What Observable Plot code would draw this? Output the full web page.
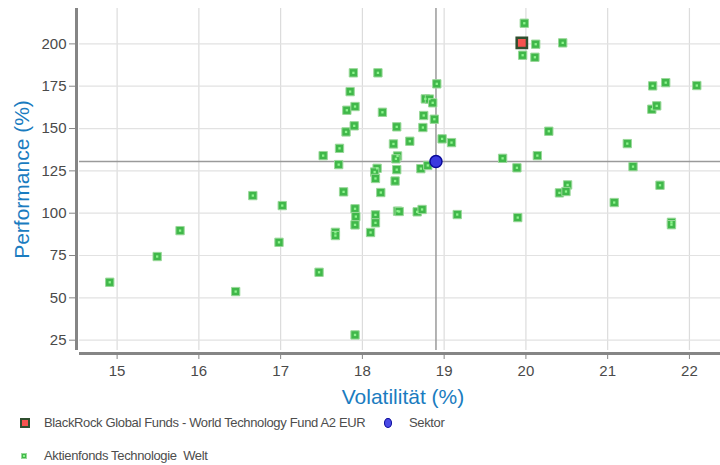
<!DOCTYPE html>
<html>
<head>
<meta charset="utf-8">
<script src="https://cdn.jsdelivr.net/npm/d3@7"></script>
<script src="https://cdn.jsdelivr.net/npm/@observablehq/plot@0.6"></script>
<style>
  body { margin: 0; background: #fff; font-family: "Liberation Sans", Arial, sans-serif; }
  #wrap { position: relative; width: 720px; height: 465px; overflow: hidden; }
  #chart { position: absolute; left: 0; top: 0; }
  .lg { position: absolute; font-size: 13px; letter-spacing: -0.35px; color: #4d4d4d; line-height: 16px; white-space: pre; }
  .sw { position: absolute; box-sizing: border-box; }
</style>
</head>
<body>
<div id="wrap">
  <div id="chart"></div>
  <div class="sw" style="left:20px;top:418px;width:10px;height:10px;background:#f5534f;border:2px solid #2f4f2f;"></div>
  <div class="lg" style="left:44px;top:415px;">BlackRock Global Funds - World Technology Fund A2 EUR</div>
  <div class="sw" style="left:384px;top:418px;width:8px;height:10px;border-radius:50%;background:#4a4ae6;border:1.5px solid #0a0a99;"></div>
  <div class="lg" style="left:409px;top:415px;">Sektor</div>
  <div class="sw" style="left:21px;top:453px;width:6px;height:6px;background:#40b84a;border:1px solid #9ad89a;"></div>
  <div class="sw" style="left:23px;top:455px;width:2px;height:2px;background:#8ef58e;"></div>
  <div class="lg" style="left:44px;top:448px;">Aktienfonds Technologie  Welt</div>
</div>
<script>
// Peer funds (Aktienfonds Technologie Welt): volatility (%) and performance (%)
const peerVol = [14.91, 15.49, 15.77, 16.45, 16.66, 17.02, 16.98, 17.47, 17.67, 17.67,
  17.77, 17.91, 17.92, 17.91, 17.91, 17.89, 17.85, 17.81, 17.91, 17.80,
  17.90, 17.52, 17.72, 17.71, 19.98, 20.12, 20.45, 19.96, 20.11, 18.19,
  21.55, 21.71, 22.09, 21.54, 21.60, 18.91, 18.77, 18.82, 18.86, 18.245,
  18.75, 18.88, 18.42, 18.74, 20.28, 18.38, 18.58, 18.975, 19.09, 21.24,
  18.43, 18.41, 19.715, 20.14, 18.18, 18.15, 18.16, 18.42, 18.715, 18.80,
  19.89, 21.31, 18.40, 18.225, 20.51, 20.41, 20.49, 21.64, 21.08, 18.16,
  18.16, 18.10, 18.43, 18.45, 18.67, 18.73, 19.16, 19.90, 21.78, 21.78];
const peerPerf = [59.2, 74.4, 89.7, 53.7, 110.4, 104.5, 82.8, 65.1, 88.7, 86.8,
  112.6, 102.6, 98.0, 93.1, 28.1, 182.9, 171.8, 160.8, 163.0, 148.0,
  151.6, 134.0, 138.3, 128.7, 212.2, 199.8, 200.6, 193.3, 192.1, 182.9,
  175.2, 177.1, 175.4, 161.4, 163.4, 176.4, 167.5, 167.4, 165.2, 159.6,
  157.7, 155.5, 151.0, 150.6, 148.4, 140.9, 142.5, 143.9, 141.7, 141.1,
  133.8, 132.1, 132.4, 134.0, 126.5, 124.3, 120.5, 125.7, 126.3, 128.2,
  126.8, 127.5, 119.0, 112.2, 116.7, 112.0, 112.8, 116.5, 106.3, 99.0,
  94.3, 88.6, 101.2, 101.0, 100.8, 102.2, 99.2, 97.4, 94.6, 93.2];
// Fund and sector
const fundVol = [19.95];
const fundPerf = [200.6];
const sectorVol = [18.90];
const sectorPerf = [130.5];
// Axis ticks
const xTicks = [15, 16, 17, 18, 19, 20, 21, 22];
const yTicks = [25, 50, 75, 100, 125, 150, 175, 200];

const peers = peerVol.map((v, i) => ({x: v, y: peerPerf[i]}));
const fund = fundVol.map((v, i) => ({x: v, y: fundPerf[i]}));
const sector = sectorVol.map((v, i) => ({x: v, y: sectorPerf[i]}));

const xDom = [14.54, 22.38];
const yDom = [18.9, 220.9];

const chart = Plot.plot({
  width: 720,
  height: 412,
  marginLeft: 79,
  marginRight: 0,
  marginTop: 8,
  marginBottom: 62,
  style: {fontFamily: "'Liberation Sans', Arial, sans-serif", background: "transparent"},
  x: {domain: xDom},
  y: {domain: yDom},
  marks: [
    Plot.gridX(xTicks, {stroke: "#dcdcdc", strokeOpacity: 1, strokeWidth: 1.2}),
    Plot.gridY(yTicks, {stroke: "#e2e2e2", strokeOpacity: 1, strokeWidth: 1.2}),
    Plot.ruleX([xDom[0]], {dx: -3, stroke: "#858585", strokeWidth: 3}),
    Plot.ruleY([yDom[0]], {dy: 3, stroke: "#858585", strokeWidth: 3}),
    Plot.axisX(xTicks, {tickSize: 6, dy: 3, tickPadding: 6, tickFormat: d => d, stroke: "#858585", fill: "#4a4a4a", fontSize: 15, label: null, style: "letter-spacing:1.5px"}),
    Plot.axisY(yTicks, {tickSize: 6, dx: -4, tickPadding: 3, tickFormat: d => d, stroke: "#858585", fill: "#4a4a4a", fontSize: 15, label: null, style: "letter-spacing:1.5px"}),
    Plot.ruleX(sectorVol, {stroke: "#9a9a9a", strokeWidth: 1.5}),
    Plot.ruleY(sectorPerf, {stroke: "#9a9a9a", strokeWidth: 1.5}),
    Plot.dot(peers, {x: "x", y: "y", symbol: "square", r: 4.7, fill: "#40b84a", stroke: "#9ad89a", strokeWidth: 1}),
    Plot.dot(peers, {x: "x", y: "y", symbol: "square", r: 1.3, fill: "#8ef58e"}),
    Plot.dot(fund, {x: "x", y: "y", symbol: "square", r: 5.8, fill: "#f5534f", stroke: "#2f4f2f", strokeWidth: 2.5}),
    Plot.dot(sector, {x: "x", y: "y", r: 6, fill: "#3a3adf", stroke: "#0a0a99", strokeWidth: 1.5}),
    Plot.text(["Volatilität (%)"], {frameAnchor: "bottom", lineAnchor: "bottom", textAnchor: "middle", dx: 3, dy: 53, fill: "#1a7cc0", fontSize: 21, style: "letter-spacing:0.8px"}),
    Plot.text(["Performance (%)"], {frameAnchor: "left", textAnchor: "middle", lineAnchor: "middle", rotate: -90, dx: -57, dy: 0, fill: "#1a7cc0", fontSize: 21, style: "letter-spacing:0.8px"})
  ]
});
document.getElementById("chart").appendChild(chart);
</script>
</body>
</html>
